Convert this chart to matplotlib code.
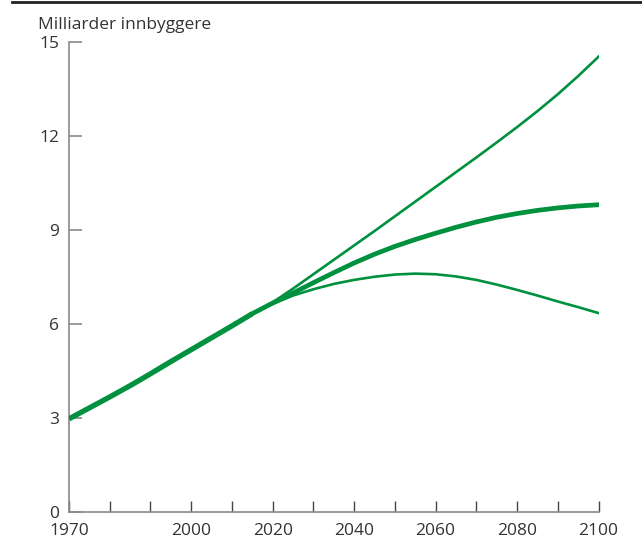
import matplotlib
matplotlib.use("Agg")
import matplotlib.pyplot as plt
from matplotlib.lines import Line2D

plt.rcParams['font.family'] = ['Open Sans', 'DejaVu Sans']

# Historical population (billions)
hist_years = [1970, 1975, 1980, 1985, 1987, 1990, 1995, 2000, 2005, 2010, 2015]
hist_vals = [2.96, 3.31, 3.66, 4.02, 4.17, 4.40, 4.79, 5.17, 5.55, 5.93, 6.32]

# Projections
proj_years = [2015, 2020, 2025, 2030, 2035, 2040, 2045, 2050, 2055, 2060,
              2065, 2070, 2075, 2080, 2085, 2090, 2095, 2100]
high_vals = [6.32, 6.68, 7.12, 7.58, 8.04, 8.50, 8.96, 9.43, 9.90, 10.37,
             10.84, 11.31, 11.79, 12.28, 12.79, 13.33, 13.91, 14.53]
medium_vals = [6.32, 6.66, 6.98, 7.31, 7.63, 7.94, 8.22, 8.47, 8.69, 8.89,
               9.08, 9.25, 9.40, 9.52, 9.62, 9.70, 9.76, 9.80]
low_vals = [6.32, 6.63, 6.90, 7.10, 7.27, 7.40, 7.50, 7.57, 7.60, 7.58,
            7.51, 7.40, 7.25, 7.08, 6.90, 6.71, 6.53, 6.34]

x_major = [1970, 2000, 2020, 2040, 2060, 2080, 2100]
x_minor = [1980, 1990, 2010, 2030, 2050, 2070, 2090]
y_ticks = [0, 3, 6, 9, 12, 15]
ylabel = "Milliarder innbyggere"

green = "#00913F"
gray = "#8a8a8a"
textc = "#333333"

fig = plt.figure(figsize=(6.42, 5.38), dpi=100)
ax = fig.add_axes([69/642, 1 - 511.5/538, (598.5 - 69)/642, (511.5 - 42)/538])

ax.plot(hist_years, hist_vals, color=green, lw=3.8, solid_capstyle='butt',
        solid_joinstyle='round', zorder=3)
ax.plot(proj_years, high_vals, color=green, lw=1.9, solid_joinstyle='round', zorder=2)
ax.plot(proj_years, low_vals, color=green, lw=1.9, solid_joinstyle='round', zorder=2)
ax.plot(proj_years, medium_vals, color=green, lw=3.4, solid_joinstyle='round', zorder=3)

ax.set_xlim(1970, 2100)
ax.set_ylim(0, 15)
for s in ['top', 'right']:
    ax.spines[s].set_visible(False)
for s in ['left', 'bottom']:
    ax.spines[s].set_color(gray)
    ax.spines[s].set_linewidth(1.2)

ax.set_xticks(x_major)
ax.set_xticks(x_minor, minor=True)
ax.set_yticks(y_ticks)
ax.set_yticklabels([str(v) for v in y_ticks])
ax.tick_params(axis='x', which='both', direction='in', length=8, width=1.0,
               color='#444444', labelsize=12.5, labelcolor=textc, pad=8)
ax.tick_params(axis='y', direction='in', length=9, width=1.2, color=gray,
               labelsize=12.5, labelcolor=textc, pad=7)

fig.text(38/642, 1 - 29/538, ylabel, fontsize=12.5, color=textc, ha='left', va='baseline')

fig.add_artist(Line2D([12/642, 1.0], [1 - 1.5/538, 1 - 1.5/538], color='#222222', lw=2.0))

fig.savefig("out.png", dpi=100)
